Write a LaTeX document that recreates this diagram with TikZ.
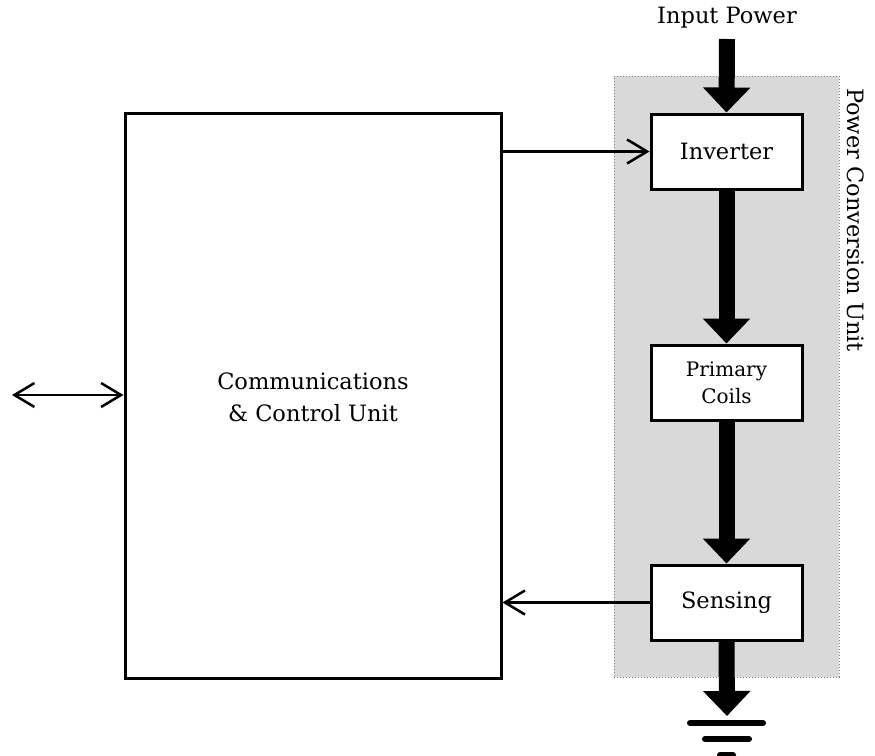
\documentclass[tikz,border=0pt]{standalone}
\usepackage{fontspec}
\setmainfont{DejaVu Serif}
\usetikzlibrary{arrows.meta}
\begin{document}
\begin{tikzpicture}[x=1pt,y=-1pt,
  blk/.style={draw=black,line width=3pt,fill=white,inner sep=0pt},
  thin/.style={line width=2.5pt,-{Straight Barb[length=20pt,width=24pt,line width=2.5pt]}},
  thick/.style={line width=16pt,-{Triangle[length=25pt,width=46pt]}},
  gline/.style={line width=6pt,line cap=round},
  txt/.style={font=\fontsize{22.5}{28}\selectfont,align=center}]
\useasboundingbox (0,0) rectangle (875,755);
% gray panel
\node[draw=gray,dotted,line width=1pt,fill={rgb,255:red,217;green,217;blue,217},inner sep=0pt,
  minimum width=225pt,minimum height=601pt] (pcu) at (726.5,376.5) {};
\node[rotate=-90,txt] (pcul) at (856,220) {Power Conversion Unit};
% comm box
\node[blk,minimum width=376pt,minimum height=565pt] (comm) at (313,395.5) {};
\node[txt,font=\fontsize{22.5}{32}\selectfont] (commt) at (313,397) {Communications\\\& Control Unit};
% blocks
\node[blk,minimum width=151pt,minimum height=75pt,txt] (inv) at (726.5,151.5) {Inverter};
\node[blk,minimum width=151pt,minimum height=75pt,txt,font=\fontsize{20}{27}\selectfont] (pc) at (726.5,382.5) {Primary\\Coils};
\node[blk,minimum width=151pt,minimum height=75pt,txt] (sen) at (726.5,602.5) {Sensing};
\node[txt] (inp) at (727,18) {Input Power};
% thick arrows
\coordinate (inptop) at (727,39);
\coordinate (gnd) at (727,716);
\draw[thick] (inptop) -- (inv.north);
\draw[thick] (inv.south) -- (pc.north);
\draw[thick] (pc.south) -- (sen.north);
\draw[thick] (sen.south) -- (gnd);
% ground
\coordinate (g1a) at (690,723); \coordinate (g1b) at (763,723);
\coordinate (g2a) at (705,739); \coordinate (g2b) at (749,739);
\coordinate (g3a) at (720,755); \coordinate (g3b) at (733,755);
\draw[gline] (g1a) -- (g1b);
\draw[gline] (g2a) -- (g2b);
\draw[gline] (g3a) -- (g3b);
% thin arrows
\draw[thin] (comm.east |- inv.west) -- (inv.west);
\draw[thin] (sen.west) -- (comm.east |- sen.west);
\coordinate (ext) at (12,395);
\draw[line width=2.5pt,{Straight Barb[length=20pt,width=24pt,line width=2.5pt]}-{Straight Barb[length=20pt,width=24pt,line width=2.5pt]}] (ext) -- (comm.west |- ext);
\end{tikzpicture}
\end{document}
